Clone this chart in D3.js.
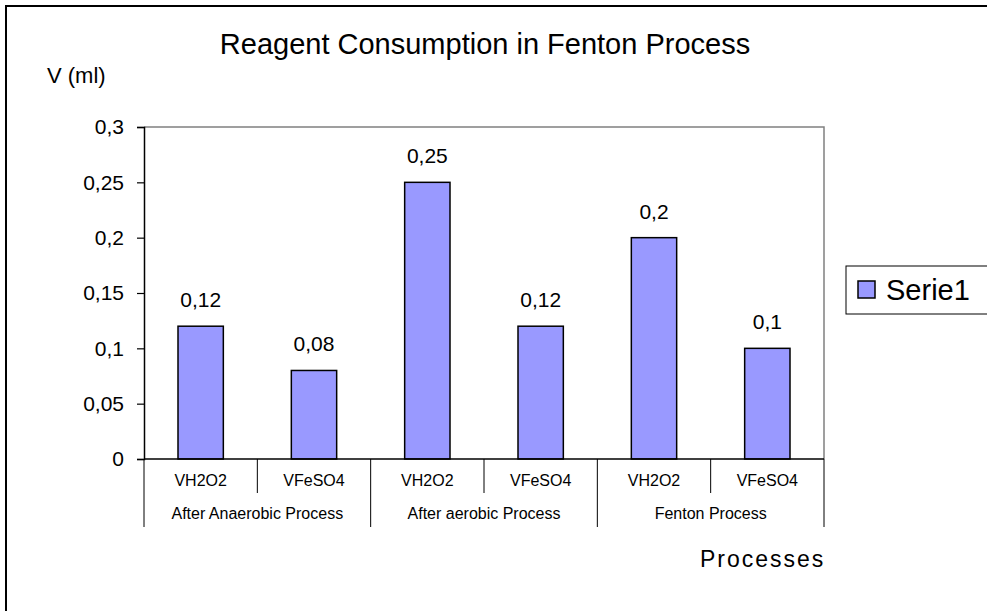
<!DOCTYPE html>
<html>
<head>
<meta charset="utf-8">
<script src="https://cdn.jsdelivr.net/npm/d3@7"></script>
<style>
  body{margin:0;background:#fff;}
  text{font-family:"Liberation Sans",Arial,sans-serif;fill:#000;}
</style>
</head>
<body>
<svg id="chart"></svg>
<script>
// data
var groups = ["After Anaerobic Process","After aerobic Process","Fenton Process"];
var reagents = ["VH2O2","VFeSO4"];
var values = [0.12,0.08,0.25,0.12,0.2,0.1];
var yTicks = [0,0.05,0.1,0.15,0.2,0.25,0.3];

var width = 987, height = 611;
var margins = {left:144,right:163,top:127,bot:152};

var svg = d3.select("#chart")
            .attr("width",width)
            .attr("height",height);

var locale = d3.formatLocale({decimal:",",thousands:".",grouping:[3],currency:["",""]});
var fmt = function(v){ return locale.format("~g")(v); };

// outer frame, cut by the window on the right and bottom
svg.append("rect")
   .attr("x",6).attr("y",6)
   .attr("width",1000).attr("height",700)
   .attr("fill","none").attr("stroke","#000").attr("stroke-width",2);

var slots = [];
groups.forEach(function(g,i){
  reagents.forEach(function(r){ slots.push(i+"|"+r); });
});

var xScale = d3.scaleBand()
               .domain(slots)
               .range([margins.left,width-margins.right])
               .paddingInner(0.6).paddingOuter(0.3);
var slotScale = d3.scaleBand()
               .domain(slots)
               .range([margins.left,width-margins.right]);
var yScale = d3.scaleLinear()
               .domain([0,0.3])
               .range([height-margins.bot,margins.top]);

var x0 = margins.left, x1 = width-margins.right;
var y0 = yScale(0), yTop = yScale(0.3);

// plot area border (top and right, grey)
svg.append("path")
   .attr("d","M"+x0+","+yTop+"H"+x1+"V"+y0)
   .attr("fill","none").attr("stroke","#808080").attr("stroke-width",1.5);

// bars
svg.selectAll("rect.bar")
   .data(values)
   .enter().append("rect")
   .classed("bar",true)
   .attr("x",function(d,i){return xScale(slots[i]);})
   .attr("width",xScale.bandwidth())
   .attr("y",function(d){return yScale(d);})
   .attr("height",function(d){return y0-yScale(d);})
   .attr("fill","#9999FF").attr("stroke","#000").attr("stroke-width",1.5);

// value labels
svg.selectAll("text.val")
   .data(values)
   .enter().append("text")
   .classed("val",true)
   .attr("x",function(d,i){return xScale(slots[i])+xScale.bandwidth()/2;})
   .attr("y",function(d){return yScale(d)-19;})
   .attr("text-anchor","middle")
   .style("font-size","21px")
   .text(function(d){return fmt(d);});

// y axis
var yAxis = d3.axisLeft(yScale)
              .tickValues(yTicks)
              .tickSize(7)
              .tickFormat(fmt);
var yg = svg.append("g")
   .attr("transform","translate("+x0+",0)")
   .call(yAxis);
yg.select(".domain").attr("stroke","#000").attr("stroke-width",1.5);
yg.selectAll(".tick line").attr("stroke","#000").attr("stroke-width",1.2);
yg.selectAll(".tick text")
  .attr("x",-20)
  .style("font-size","21px")
  .style("font-family","'Liberation Sans',Arial,sans-serif");

// x axis line
svg.append("line")
   .attr("x1",x0).attr("x2",x1).attr("y1",y0).attr("y2",y0)
   .attr("stroke","#000").attr("stroke-width",1.5);

// sub category separators
slots.forEach(function(s,i){
  var xs = slotScale(s);
  var long = (i % 2 === 0);
  svg.append("line")
     .attr("x1",xs).attr("x2",xs)
     .attr("y1",y0).attr("y2",long ? y0+68 : y0+34)
     .attr("stroke","#000").attr("stroke-width",1);
  svg.append("text")
     .attr("x",xs+slotScale.bandwidth()/2)
     .attr("y",y0+27)
     .attr("text-anchor","middle")
     .style("font-size","16px")
     .text(s.split("|")[1]);
});
svg.append("line")
   .attr("x1",x1).attr("x2",x1)
   .attr("y1",y0).attr("y2",y0+68)
   .attr("stroke","#000").attr("stroke-width",1);

// group labels
groups.forEach(function(g,i){
  var a = slotScale(slots[i*2]);
  var b = slotScale(slots[i*2+1])+slotScale.bandwidth();
  svg.append("text")
     .attr("x",(a+b)/2)
     .attr("y",y0+60)
     .attr("text-anchor","middle")
     .style("font-size","16px")
     .text(g);
});

// titles
svg.append("text")
   .attr("x",485).attr("y",54)
   .attr("text-anchor","middle")
   .style("font-size","29px")
   .text("Reagent Consumption in Fenton Process");
svg.append("text")
   .attr("x",47).attr("y",83)
   .style("font-size","22px")
   .text("V (ml)");
svg.append("text")
   .attr("x",700).attr("y",567)
   .style("font-size","23px")
   .style("letter-spacing","2px")
   .text("Processes");

// legend
var leg = svg.append("g").attr("transform","translate(846,266)");
leg.append("rect")
   .attr("width",150).attr("height",48)
   .attr("fill","#fff").attr("stroke","#000").attr("stroke-width",1);
leg.append("rect")
   .attr("x",12).attr("y",15).attr("width",17).attr("height",17)
   .attr("fill","#9999FF").attr("stroke","#000").attr("stroke-width",1.5);
leg.append("text")
   .attr("x",40).attr("y",34)
   .style("font-size","29px")
   .text("Serie1");
</script>
</body>
</html>
